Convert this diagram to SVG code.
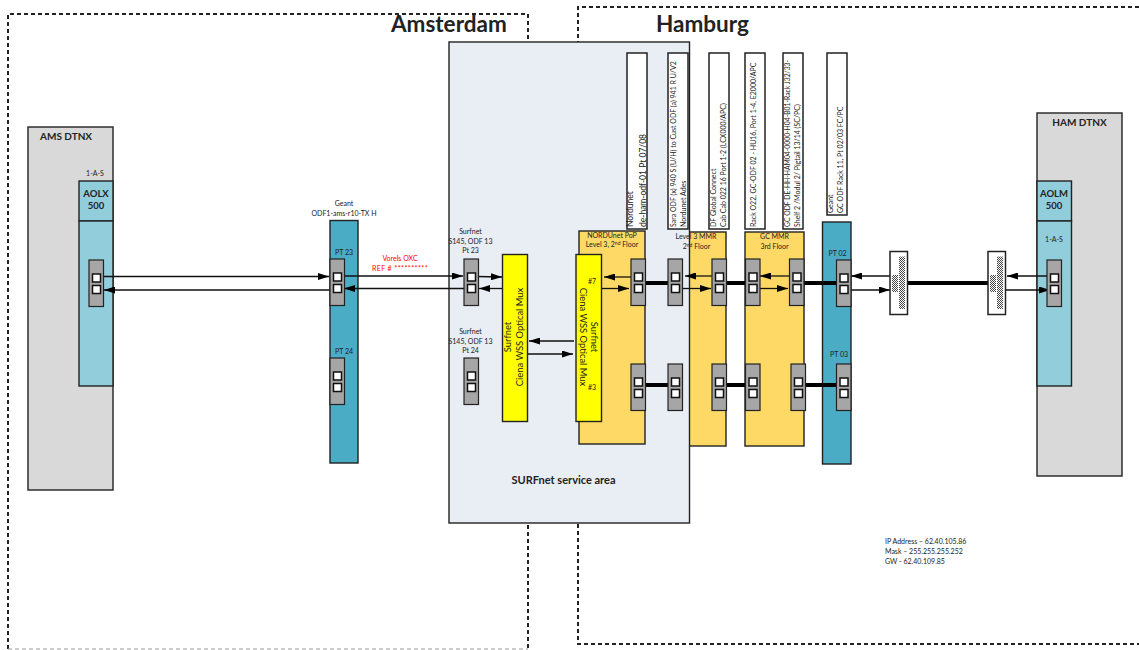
<svg xmlns="http://www.w3.org/2000/svg" width="1139" height="650" viewBox="0 0 1139 650">
<style>
text{font-family:Lato,"Noto Sans","Liberation Sans",sans-serif;fill:#222;font-size:7px}
.c{text-anchor:middle}
.b{font-weight:bold}
.box{stroke:#222;stroke-width:1.4}
.port{fill:#a6a6a6;stroke:#222;stroke-width:1.2}
.sq{fill:#fff;stroke:#111;stroke-width:1.5}
.lbl{fill:#fff;stroke:#222;stroke-width:1.5}
.yel{fill:#ffd966}
.teal{fill:#4bacc6}
.lt{fill:#92cddc}
.mux{fill:#ffff00}
.w{fill:none;stroke:#111;stroke-width:1.3}
.t{fill:none;stroke:#000;stroke-width:4}
.dash{fill:none;stroke:#222;stroke-width:2;stroke-dasharray:4 3}
.l7{font-size:7px}
.l85{font-size:8.500px}
.h{font-size:22.500px;font-weight:bold}
.dt{font-size:10px;font-weight:bold}
.ao{font-size:9.500px;font-weight:bold}
.as{font-size:7px}
.m{font-size:9.400px}
.sup{font-size:5px}
</style>
<defs>
<marker id="a" viewBox="0 0 11 7" refX="11" refY="3.500" markerWidth="11" markerHeight="7" markerUnits="userSpaceOnUse" orient="auto"><path d="M0 0L11 3.500L0 7z" fill="#000"/></marker>
<pattern id="dots" width="2" height="2" patternUnits="userSpaceOnUse"><rect width="2" height="2" fill="#fff"/><rect width="1" height="1" fill="#444"/><rect x="1" y="1" width="1" height="1" fill="#444"/></pattern>
<g id="pp"><rect class="port" width="14.500" height="46.500"/><rect class="sq" x="3.500" y="14" width="8" height="8"/><rect class="sq" x="3.500" y="25.500" width="8" height="8"/></g>
</defs>
<rect width="1139" height="650" fill="#fff"/>

<g id="region-amsterdam"><path class="dash" d="M8 649V14H528V650"/><path d="M8 649H528" fill="none" stroke="#999" stroke-width="1" stroke-dasharray="4 3"/><text class="h" x="391" y="32">Amsterdam</text></g>
<g id="region-hamburg"><path class="dash" d="M1139 7H578V644H1139"/><text class="h" x="656" y="32">Hamburg</text></g>

<g id="yellow-level3"><rect class="box yel" x="689" y="232" width="37" height="214"/></g>
<g id="surfnet-area"><rect class="box" x="449" y="42" width="240.500" height="481" fill="#e9edf4"/><text class="c b" x="563.500" y="484" style="font-size:11px">SURFnet service area</text></g>
<g id="level3-label"><text class="c" x="696" y="239">Level 3 MMR</text><text class="c" x="696.500" y="248.500">2<tspan dy="-2" class="sup">nd</tspan><tspan dy="2"> Floor</tspan></text></g>

<g id="ams-dtnx"><rect class="box" x="28" y="127" width="85" height="363" fill="#d9d9d9"/><text class="dt" x="40" y="140">AMS DTNX</text><text class="c as" x="95" y="176">1-A-S</text><rect class="box lt" x="79" y="181" width="34" height="40"/><rect class="box lt" x="79" y="221" width="34" height="165"/><text class="c ao" x="96" y="197">AOLX</text><text class="c ao" x="96" y="209">500</text></g>
<g id="ham-dtnx"><rect class="box" x="1037" y="113" width="85" height="363" fill="#d9d9d9"/><text class="c dt" x="1079.500" y="126">HAM DTNX</text><rect class="box lt" x="1037" y="181" width="34.500" height="40"/><rect class="box lt" x="1037" y="221" width="34.500" height="165"/><text class="c ao" x="1054" y="197">AOLM</text><text class="c ao" x="1054" y="209">500</text><text class="c as" x="1054" y="242">1-A-S</text></g>

<g id="geant-ams"><text class="c" x="344" y="206">Geant</text><text class="c" x="344" y="216">ODF1-ams-r10-TX H</text><rect class="box teal" x="330" y="220.500" width="28" height="242.500"/><text class="c" x="344" y="255">PT 23</text><text class="c" x="344" y="354">PT 24</text></g>
<g id="geant-ham"><rect class="box teal" x="822.500" y="222" width="28.500" height="242"/><text class="c" x="837.500" y="256">PT 02</text><text class="c" x="839" y="357">PT 03</text></g>

<g id="nordunet-pop"><rect class="box yel" x="579" y="231" width="66" height="213"/><text class="c" x="612" y="238">NORDUnet PoP</text><text class="c" x="612" y="247">Level 3, 2<tspan dy="-2" class="sup">nd</tspan><tspan dy="2"> Floor</tspan></text></g>
<g id="gc-mmr"><rect class="box yel" x="745" y="232" width="59" height="214"/><text class="c" x="774.500" y="239">GC MMR</text><text class="c" x="774.500" y="248.500">3rd Floor</text></g>

<g id="mux-a"><rect class="box mux" x="502.500" y="254.500" width="25" height="167"/><g transform="translate(511 337) rotate(-90)"><text class="c m" x="0" y="0">Surfnet</text><text class="c m" x="0" y="12">Ciena WSS Optical Mux</text></g></g>
<g id="mux-b"><rect class="box mux" x="576" y="254.500" width="25.500" height="167"/><g transform="translate(590.500 337) rotate(90)"><text class="c m" x="0" y="0">Surfnet</text><text class="c m" x="0" y="11">Ciena WSS Optical Mux</text></g><text class="c" x="592" y="284">#7</text><text class="c" x="592" y="390">#3</text></g>

<g id="surfnet-odf"><text class="c" x="470.500" y="234">Surfnet</text><text class="c" x="470.500" y="243.500">S145, ODF 13</text><text class="c" x="470.500" y="253">Pt 23</text><text class="c" x="470.500" y="334">Surfnet</text><text class="c" x="470.500" y="343.500">S145, ODF 13</text><text class="c" x="470.500" y="353">Pt 24</text></g>

<g id="labels">
<g id="lbl-1"><rect class="lbl" x="627" y="53" width="20" height="176"/><g transform="translate(633 227) rotate(-90)"><text class="l85" x="0" y="0">Nordunet</text><text class="l85" x="0" y="12.500">de-ham-odf-01 Pt 07/08</text></g></g>
<g id="lbl-2"><rect class="lbl" x="668" y="53" width="20" height="176"/><g transform="translate(675.500 227) rotate(-90)"><text class="l7" x="0" y="0">Sara ODF (x) 940 S (U/H) to Cust ODF (a) 941 R U/V2</text><text class="l7" x="0" y="10">Nordunet Ades</text></g></g>
<g id="lbl-3"><rect class="lbl" x="709" y="53" width="20" height="176"/><g transform="translate(716 227) rotate(-90)"><text class="l7" x="0" y="0">DF Global Connect</text><text class="l7" x="0" y="10">Cab Cab  022 16 Port 1-2 (LCX000/APC)</text></g></g>
<g id="lbl-4"><rect class="lbl" x="745" y="53" width="20" height="176"/><g transform="translate(756 227) rotate(-90)"><text class="l7" x="0" y="0">Rack O22, GC-ODF 02 - HU16, Port 1-4, E2000/APC</text></g></g>
<g id="lbl-5"><rect class="lbl" x="783" y="53" width="20" height="176"/><g transform="translate(790 227) rotate(-90)"><text x="0" y="0" style="font-size:6.800px">GC ODF DE-HH-HAM04-0000-H04-B01-Rack J32/33-</text><text class="l7" x="0" y="10">Shelf 2 /Modul 2/ Pigtail 13/14 (SC/PC)</text></g></g>
<g id="lbl-6"><rect class="lbl" x="827" y="53" width="20" height="162"/><g transform="translate(833 213) rotate(-90)"><text class="l7" x="0" y="0">Geant</text><text class="l7" x="0" y="10">GC ODF Rack 11, Pt 02/03 FC/PC</text></g></g>
</g>

<g id="connectors">
<path class="t" d="M645 283H668M726 283H745M804 283H837M645 385H668M726 385H745M805 385H837M908 283H988"/>
<path class="w" d="M100 276.500H329" marker-end="url(#a)"/>
<path class="w" d="M344 290H104" marker-end="url(#a)"/>
<path class="w" d="M340 276H463" marker-end="url(#a)"/>
<path class="w" d="M464 288.500H344" marker-end="url(#a)"/>
<path class="w" d="M476 276.500L502 277" marker-end="url(#a)"/>
<path class="w" d="M502 288.500H479" marker-end="url(#a)"/>
<path class="w" d="M574 341H529" marker-end="url(#a)"/>
<path class="w" d="M528 354H573" marker-end="url(#a)"/>
<path class="w" d="M631 277H604" marker-end="url(#a)"/>
<path class="w" d="M602 288.500H629" marker-end="url(#a)"/>
<path class="w" d="M712 276H685" marker-end="url(#a)"/>
<path class="w" d="M680 288.500H711" marker-end="url(#a)"/>
<path class="w" d="M789 276H760" marker-end="url(#a)"/>
<path class="w" d="M758 288.500H788" marker-end="url(#a)"/>
<path class="w" d="M890 276H851" marker-end="url(#a)"/>
<path class="w" d="M846 290H890" marker-end="url(#a)"/>
<path class="w" d="M1052 276H1007" marker-end="url(#a)"/>
<path class="w" d="M1005 290H1050" marker-end="url(#a)"/>
</g>

<g id="ports">
<use href="#pp" x="89" y="260"/>
<use href="#pp" x="330" y="259"/><use href="#pp" x="330" y="358"/>
<use href="#pp" x="464" y="259"/><use href="#pp" x="464" y="358"/>
<use href="#pp" x="631" y="259"/><use href="#pp" x="631" y="364"/>
<use href="#pp" x="668" y="259"/><use href="#pp" x="668" y="364"/>
<use href="#pp" x="712" y="259"/><use href="#pp" x="712" y="364"/>
<use href="#pp" x="745.500" y="259"/><use href="#pp" x="745.500" y="364"/>
<use href="#pp" x="789.500" y="259"/><use href="#pp" x="791" y="364"/>
<use href="#pp" x="836.500" y="260"/><use href="#pp" x="836.500" y="364"/>
<use href="#pp" x="1047" y="260"/>
</g>

<g id="patch-1"><rect class="lbl" x="890" y="251.500" width="17.500" height="63"/><rect x="899" y="256.500" width="6" height="52.500" fill="url(#dots)"/><rect x="892" y="275" width="6" height="17" fill="url(#dots)"/></g>
<g id="patch-2"><rect class="lbl" x="988" y="251.500" width="17.500" height="63"/><rect x="997" y="256.500" width="6" height="52.500" fill="url(#dots)"/><rect x="990" y="275" width="6" height="17" fill="url(#dots)"/></g>

<g id="vendor-label"><text class="c" x="400" y="261" style="fill:#ff0000">Vorels OXC</text><text class="c" x="400" y="271" style="fill:#ff0000;letter-spacing:.4px">REF # **********</text></g>
<g id="ip-info"><text x="885" y="544">IP Address – 62.40.105.86</text><text x="885" y="553.500">Mask – 255.255.255.252</text><text x="885" y="563.500">GW -  62.40.109.85</text></g>
</svg>
